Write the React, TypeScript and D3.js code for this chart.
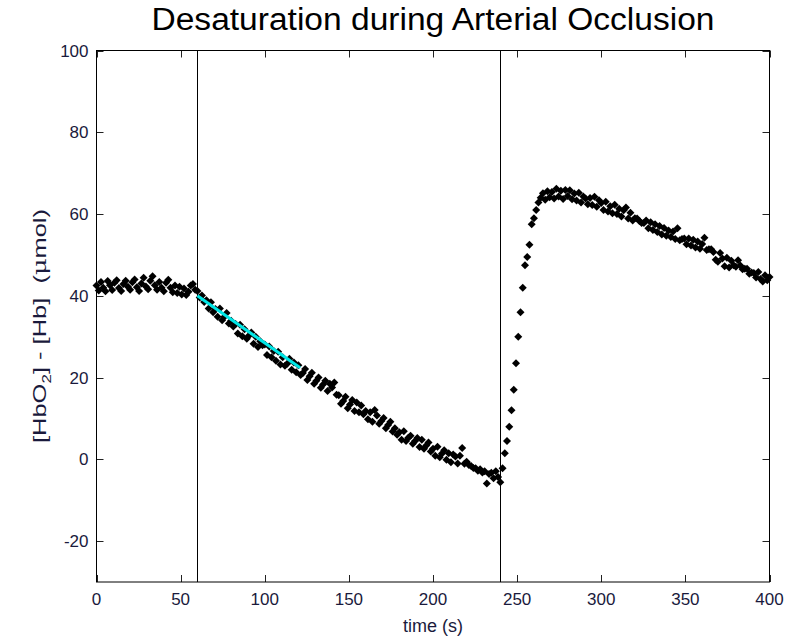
import React from "react";
import * as d3 from "d3";

// ---------------- data ----------------
const chartTitle = "Desaturation during Arterial Occlusion";
const xLabel = "time (s)";
const samplePeriod = 4 / 3; // seconds between samples (0.75 Hz)

// [HbO2] - [Hb] (µmol), one value per sample, starting at t = 0
const hbDiff: number[] = [
  // 0 - 18.7 s
  42.5, 41.3, 43.4, 42.0, 41.1, 43.6, 42.6, 41.4, 43.2, 43.8, 41.9, 41.2, 42.9, 43.7, 42.2,
  // 20 - 38.7 s
  41.5, 43.3, 44.0, 42.1, 41.2, 43.0, 44.4, 42.3, 41.6, 43.7, 44.8, 42.6, 41.5, 43.4, 42.0,
  // 40 - 58.7 s
  41.1, 43.2, 43.9, 42.0, 40.9, 42.5, 40.7, 42.2, 40.3, 41.8, 40.2, 41.0, 42.5, 42.9, 41.5,
  // 60 - 78.7 s
  41.2, 39.6, 40.1, 38.5, 38.9, 36.9, 38.4, 36.0, 36.8, 34.9, 36.9, 34.0, 34.9, 35.8, 33.2,
  // 80 - 98.7 s
  33.9, 32.5, 33.1, 30.8, 32.9, 30.1, 31.8, 29.5, 30.3, 31.0, 28.3, 30.0, 27.5, 28.9, 27.9,
  // 100 - 118.7 s
  28.1, 25.5, 27.6, 25.0, 26.5, 24.1, 26.3, 23.2, 25.0, 22.9, 23.4, 24.6, 21.9, 23.7, 21.3,
  // 120 - 138.7 s
  23.0, 20.6, 21.1, 22.1, 19.4, 20.3, 21.2, 18.5, 19.2, 20.0, 17.5, 18.3, 19.2, 16.7, 18.5,
  // 140 - 158.7 s
  17.6, 18.8, 15.8, 15.7, 13.6, 14.3, 15.3, 12.5, 13.4, 14.5, 11.8, 13.9, 11.5, 13.2, 11.0,
  // 160 - 178.7 s
  11.8, 9.8, 11.5, 9.2, 12.1, 10.7, 8.7, 9.4, 10.1, 7.6, 8.4, 9.2, 6.8, 7.6, 6.0,
  // 180 - 198.7 s
  6.6, 4.8, 6.9, 4.5, 5.3, 5.8, 3.8, 4.5, 5.2, 3.0, 4.8, 2.6, 3.4, 4.1, 1.9,
  // 200 - 218.7 s
  2.6, 0.9, 3.1, 0.5, 1.4, 2.2, -0.1, 1.5, -0.7, 1.2, 0.7, -1.0, 0.9, 2.8, -1.1,
  // 220 - 238.7 s
  -0.6, -1.4, -1.6, -2.1, -2.2, -2.8, -2.4, -3.2, -2.9, -5.9, -3.6, -3.3, -4.6, -2.9, -4.3,
  // 240 - 258.7 s
  -5.6, -2.2, 1.5, 4.5, 8.0, 12.0, 17.0, 23.5, 30.0, 36.0, 42.0, 47.5, 49.5, 52.5, 57.5,
  // 260 - 278.7 s
  59.0, 61.0, 62.8, 64.0, 65.1, 63.5, 65.6, 64.1, 65.4, 63.8, 66.2, 64.3, 65.7, 63.7, 65.9,
  // 280 - 298.7 s
  64.4, 65.8, 63.6, 65.0, 63.3, 65.2, 62.8, 64.3, 63.8, 62.4, 63.9, 62.2, 64.2, 61.8, 63.4,
  // 300 - 318.7 s
  62.7, 61.0, 63.0, 60.6, 61.9, 60.2, 62.3, 60.0, 61.3, 59.4, 60.9, 61.6, 58.9, 60.3, 58.4,
  // 320 - 338.7 s
  59.0, 58.9, 58.3, 57.8, 57.8, 58.4, 56.5, 58.0, 56.1, 57.5, 55.6, 57.1, 55.0, 56.6, 54.7,
  // 340 - 358.7 s
  56.0, 54.4, 55.7, 53.9, 56.5, 53.6, 53.9, 54.0, 52.6, 54.0, 52.3, 53.7, 51.8, 53.3, 51.5,
  // 360 - 378.7 s
  52.7, 54.2, 51.2, 51.4, 51.4, 50.7, 48.8, 48.3, 50.5, 49.1, 47.2, 49.3, 46.9, 48.6, 47.5,
  // 380 - 398.7 s
  47.1, 48.7, 47.4, 46.5, 46.6, 46.6, 45.4, 45.7, 45.6, 44.5, 45.8, 44.1, 43.5, 45.0, 43.8,
  // 400 s
  44.6,
];

// occlusion start / release markers (s)
const eventTimes = [60, 240];
// linear fit of the early desaturation slope: [time, value]
const fitLine: [number, number][] = [
  [60, 40.0],
  [121, 22.4],
];

const xDomain: [number, number] = [0, 400];
const yDomain: [number, number] = [-30, 100];
const xTicks = [0, 50, 100, 150, 200, 250, 300, 350, 400];
const yTicks = [-20, 0, 20, 40, 60, 80, 100];

// ---------------- layout ----------------
const W = 786;
const H = 640;
const left = 96.5;
const right = 769.5;
const top = 50.5;
const bottom = 582;
const tickLen = 7;
const font = "'Liberation Sans', Arial, Helvetica, sans-serif";
const labelColor = "#1a1a3c";

export default function App() {
  const x = d3.scaleLinear().domain(xDomain).range([left, right]);
  const y = d3.scaleLinear().domain(yDomain).range([bottom, top]);

  const points = hbDiff.map((v, i) => ({ t: i * samplePeriod, v }));
  const marker = d3.symbol(d3.symbolSquare, 32)() as string;
  const fitPath = d3
    .line<[number, number]>()
    .x((d) => x(d[0]))
    .y((d) => y(d[1]))(fitLine) as string;

  return (
    <svg
      width={W}
      height={H}
      style={{ position: "fixed", left: 0, top: 0, background: "#fff" }}
      fontFamily={font}
    >
      <rect x={0} y={0} width={W} height={H} fill="#fff" />
      {/* title */}
      <text
        x={(left + right) / 2}
        y={30}
        textAnchor="middle"
        fontSize={31}
        fill="#000"
        textLength={563}
        lengthAdjust="spacingAndGlyphs"
      >
        {chartTitle}
      </text>

      {/* event lines */}
      {eventTimes.map((t) => (
        <line key={t} x1={Math.round(x(t)) + 0.5} x2={Math.round(x(t)) + 0.5} y1={top} y2={bottom} stroke="#000" strokeWidth={1} />
      ))}

      {/* data points */}
      <g fill="#000">
        {points.map((p, i) => (
          <path key={i} d={marker} transform={`translate(${x(p.t)},${y(p.v)}) rotate(45)`} />
        ))}
      </g>

      {/* fit line */}
      <path d={fitPath} fill="none" stroke="#00e6e6" strokeWidth={3} />

      {/* ticks */}
      <g stroke="#222" strokeWidth={1}>
        {xTicks.map((t) => {
          const px = Math.round(x(t)) + 0.5;
          return (
            <g key={t}>
              <line x1={px} x2={px} y1={bottom} y2={bottom - tickLen} />
              <line x1={px} x2={px} y1={top} y2={top + tickLen} />
            </g>
          );
        })}
        {yTicks.map((t) => {
          const py = Math.round(y(t)) + 0.5;
          return (
            <g key={t}>
              <line x1={left} x2={left + tickLen} y1={py} y2={py} />
              <line x1={right} x2={right - tickLen} y1={py} y2={py} />
            </g>
          );
        })}
      </g>

      {/* axes box */}
      <rect x={left} y={top} width={right - left} height={bottom - top} fill="none" stroke="#000" strokeWidth={1} />

      {/* tick labels */}
      <g fontSize={17} fill={labelColor}>
        {xTicks.map((t) => (
          <text key={t} x={x(t)} y={605} textAnchor="middle">
            {t}
          </text>
        ))}
        {yTicks.map((t) => (
          <text key={t} x={left - 8} y={y(t)} dy="0.36em" textAnchor="end">
            {t}
          </text>
        ))}
      </g>

      {/* axis labels */}
      <text x={(left + right) / 2} y={632} textAnchor="middle" fontSize={18} fill={labelColor}>
        {xLabel}
      </text>
      <text
        transform={`translate(46,326) rotate(-90)`}
        textAnchor="middle"
        fontSize={18}
        fill={labelColor}
        textLength={234}
        lengthAdjust="spacingAndGlyphs"
        style={{ whiteSpace: "pre" }}
      >
        [HbO
        <tspan fontSize={12} dy={5}>2</tspan>
        <tspan dy={-5}>] - [Hb]  (</tspan>
        <tspan fontFamily="'DejaVu Serif', serif">μ</tspan>
        <tspan>mol)</tspan>
      </text>
    </svg>
  );
}
